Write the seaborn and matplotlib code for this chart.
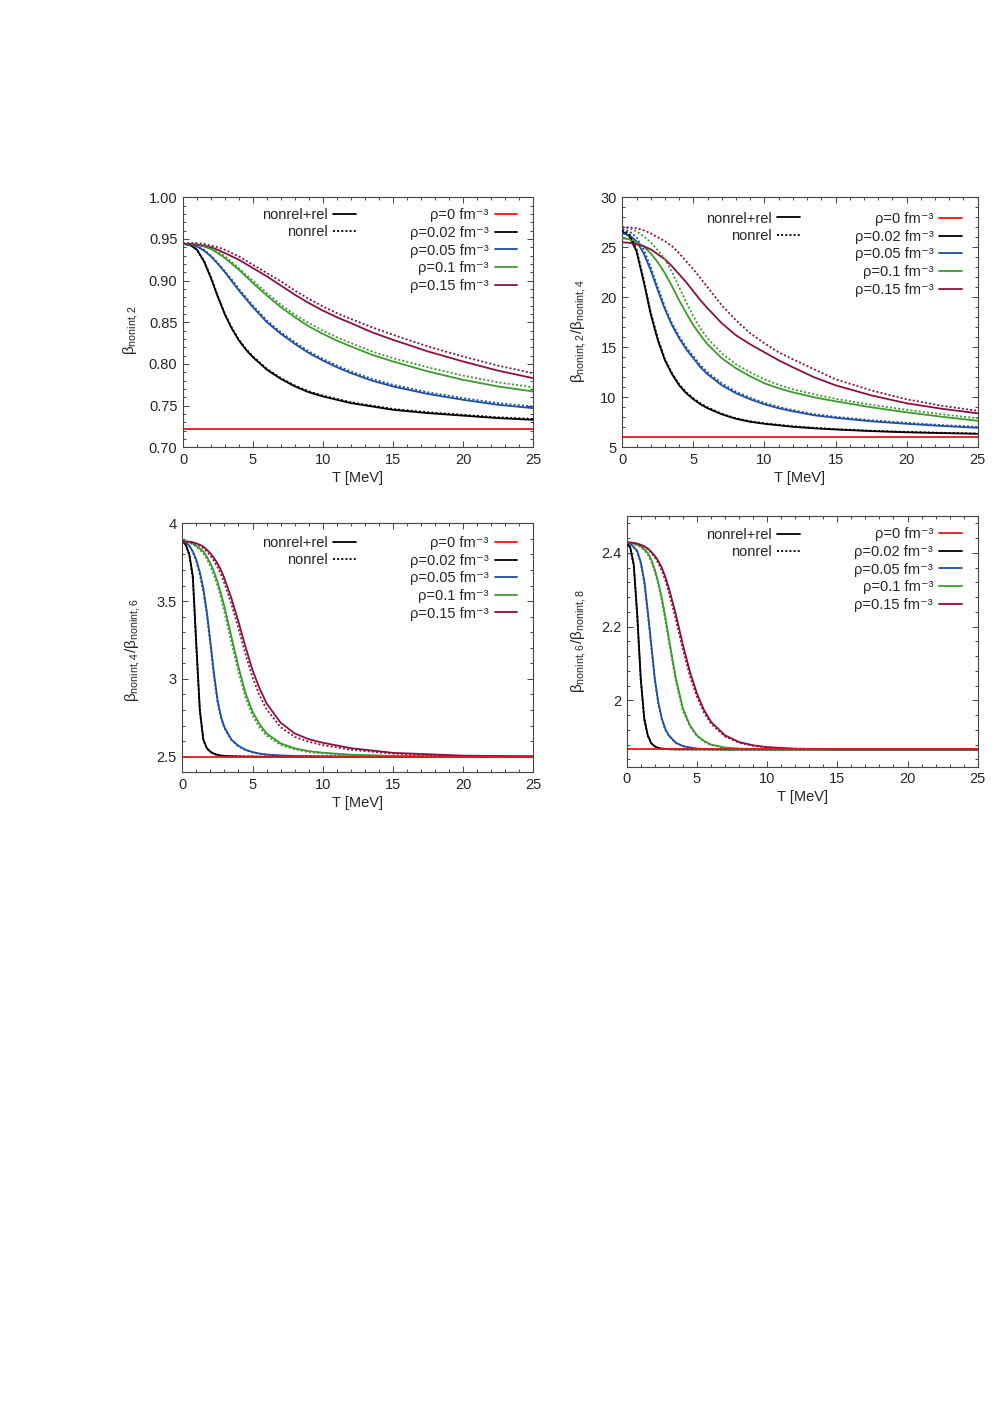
import numpy as np
import pandas as pd
import matplotlib
matplotlib.use("Agg")
import matplotlib.pyplot as plt
import seaborn as sns
from matplotlib.lines import Line2D
from matplotlib.ticker import AutoMinorLocator, FormatStrFormatter

# ---------------- data ----------------
densities = ["ρ=0", "ρ=0.02", "ρ=0.05", "ρ=0.1", "ρ=0.15"]
colors = ["#f01414", "#000000", "#1f4fa0", "#3c9a2e", "#8a1040"]

T_red = [0, 25]

# Panel 1: beta_nonint,2
T1 = [0, 0.5, 1, 1.5, 2, 2.5, 3, 3.5, 4, 4.5, 5, 6, 7, 8, 9, 10, 11, 12, 13.5, 15, 17.5, 20, 22.5, 25]
p1_red = [0.722, 0.722]
p1_black = [0.944, 0.943, 0.937, 0.923, 0.903, 0.880, 0.859, 0.842, 0.828, 0.817, 0.808, 0.793, 0.782, 0.773, 0.766, 0.761, 0.757, 0.753, 0.749, 0.745, 0.741, 0.738, 0.735, 0.733]
p1_black_nr = [0.944, 0.943, 0.937, 0.924, 0.904, 0.881, 0.860, 0.843, 0.829, 0.818, 0.809, 0.794, 0.783, 0.774, 0.767, 0.762, 0.758, 0.754, 0.750, 0.746, 0.742, 0.739, 0.736, 0.734]
p1_blue = [0.944, 0.943, 0.941, 0.936, 0.929, 0.920, 0.910, 0.899, 0.888, 0.878, 0.868, 0.850, 0.836, 0.824, 0.813, 0.804, 0.796, 0.789, 0.780, 0.773, 0.764, 0.757, 0.751, 0.747]
p1_blue_nr = [0.944, 0.943, 0.941, 0.937, 0.930, 0.921, 0.911, 0.901, 0.890, 0.880, 0.870, 0.852, 0.838, 0.826, 0.815, 0.806, 0.798, 0.791, 0.782, 0.775, 0.766, 0.759, 0.753, 0.749]
p1_green = [0.944, 0.944, 0.943, 0.941, 0.938, 0.933, 0.927, 0.920, 0.913, 0.905, 0.897, 0.882, 0.868, 0.856, 0.845, 0.836, 0.828, 0.821, 0.811, 0.803, 0.791, 0.781, 0.773, 0.767]
p1_green_nr = [0.944, 0.944, 0.944, 0.942, 0.939, 0.935, 0.929, 0.922, 0.915, 0.907, 0.900, 0.885, 0.871, 0.859, 0.849, 0.840, 0.832, 0.825, 0.815, 0.807, 0.796, 0.786, 0.778, 0.772]
p1_maroon = [0.944, 0.944, 0.943, 0.942, 0.940, 0.937, 0.933, 0.929, 0.925, 0.920, 0.915, 0.905, 0.894, 0.883, 0.873, 0.864, 0.856, 0.849, 0.838, 0.829, 0.815, 0.803, 0.792, 0.783]
p1_maroon_nr = [0.945, 0.945, 0.945, 0.944, 0.942, 0.940, 0.937, 0.933, 0.929, 0.924, 0.919, 0.909, 0.899, 0.888, 0.878, 0.869, 0.861, 0.854, 0.844, 0.835, 0.821, 0.809, 0.798, 0.789]

# Panel 2: beta_nonint,2 / beta_nonint,4
T2 = [0, 0.5, 1, 1.5, 2, 2.5, 3, 3.5, 4, 4.5, 5, 5.5, 6, 7, 8, 9, 10, 11, 12, 13.5, 15, 17.5, 20, 22.5, 25]
p2_red = [6.0, 6.0]
p2_black = [26.6, 26.1, 24.6, 21.6, 18.3, 15.7, 13.7, 12.3, 11.2, 10.4, 9.8, 9.3, 8.9, 8.3, 7.85, 7.55, 7.35, 7.2, 7.05, 6.9, 6.78, 6.62, 6.5, 6.42, 6.35]
p2_black_nr = [26.8, 26.3, 24.8, 21.8, 18.5, 15.9, 13.8, 12.4, 11.3, 10.5, 9.9, 9.4, 9.0, 8.35, 7.9, 7.6, 7.4, 7.25, 7.1, 6.95, 6.82, 6.66, 6.54, 6.45, 6.38]
p2_blue = [26.4, 26.2, 25.6, 24.4, 22.7, 20.7, 18.8, 17.2, 15.9, 14.8, 13.9, 13.0, 12.3, 11.2, 10.4, 9.8, 9.3, 8.9, 8.6, 8.2, 7.95, 7.6, 7.35, 7.13, 6.95]
p2_blue_nr = [26.8, 26.6, 26.0, 24.8, 23.0, 21.0, 19.0, 17.4, 16.1, 15.0, 14.1, 13.2, 12.5, 11.4, 10.55, 9.95, 9.45, 9.05, 8.72, 8.32, 8.05, 7.7, 7.45, 7.22, 7.05]
p2_green = [25.9, 25.8, 25.5, 25.1, 24.4, 23.5, 22.4, 21.1, 19.7, 18.4, 17.2, 16.2, 15.3, 13.9, 12.9, 12.1, 11.4, 10.9, 10.5, 10.0, 9.6, 9.0, 8.5, 8.05, 7.65]
p2_green_nr = [27.0, 26.9, 26.6, 26.1, 25.5, 24.7, 23.8, 22.5, 21.0, 19.5, 18.1, 16.9, 15.9, 14.4, 13.3, 12.5, 11.8, 11.25, 10.8, 10.3, 9.85, 9.25, 8.75, 8.3, 7.9]
p2_maroon = [25.5, 25.45, 25.3, 25.1, 24.8, 24.3, 23.8, 23.1, 22.3, 21.5, 20.6, 19.7, 18.9, 17.4, 16.2, 15.3, 14.5, 13.7, 13.0, 12.0, 11.2, 10.2, 9.4, 8.85, 8.4]
p2_maroon_nr = [27.0, 27.0, 26.9, 26.7, 26.4, 26.0, 25.6, 25.1, 24.4, 23.6, 22.8, 21.9, 21.0, 19.2, 17.7, 16.4, 15.4, 14.5, 13.8, 12.8, 11.8, 10.7, 9.8, 9.15, 8.65]

# Panels 3 and 4 share a temperature grid
T34 = [0, 0.25, 0.5, 0.75, 1, 1.25, 1.5, 1.75, 2, 2.25, 2.5, 2.75, 3, 3.5, 4, 4.5, 5, 5.5, 6, 7, 8, 9, 10, 12, 15, 20, 25]

# Panel 3: beta_nonint,4 / beta_nonint,6
p3_red = [2.5, 2.5]
p3_black = [3.885, 3.862, 3.80, 3.66, 3.22, 2.80, 2.61, 2.555, 2.532, 2.52, 2.512, 2.508, 2.505, 2.503, 2.502, 2.501, 2.501, 2.5, 2.5, 2.5, 2.5, 2.5, 2.5, 2.5, 2.5, 2.5, 2.5]
p3_black_nr = [3.885, 3.86, 3.795, 3.645, 3.20, 2.79, 2.605, 2.553, 2.531, 2.519, 2.511, 2.507, 2.505, 2.503, 2.502, 2.501, 2.501, 2.5, 2.5, 2.5, 2.5, 2.5, 2.5, 2.5, 2.5, 2.5, 2.5]
p3_blue = [3.885, 3.877, 3.856, 3.82, 3.765, 3.685, 3.58, 3.43, 3.24, 3.04, 2.87, 2.76, 2.69, 2.61, 2.57, 2.545, 2.53, 2.52, 2.514, 2.508, 2.505, 2.503, 2.502, 2.501, 2.5, 2.5, 2.5]
p3_blue_nr = [3.885, 3.876, 3.853, 3.815, 3.755, 3.67, 3.56, 3.41, 3.22, 3.02, 2.855, 2.75, 2.683, 2.606, 2.567, 2.543, 2.528, 2.519, 2.513, 2.507, 2.504, 2.503, 2.502, 2.501, 2.5, 2.5, 2.5]
p3_green = [3.885, 3.883, 3.878, 3.868, 3.854, 3.838, 3.818, 3.785, 3.743, 3.69, 3.625, 3.55, 3.464, 3.271, 3.078, 2.91, 2.79, 2.71, 2.65, 2.586, 2.554, 2.536, 2.526, 2.513, 2.505, 2.501, 2.5]
p3_green_nr = [3.885, 3.882, 3.876, 3.865, 3.85, 3.83, 3.806, 3.77, 3.725, 3.668, 3.60, 3.52, 3.43, 3.235, 3.045, 2.88, 2.765, 2.69, 2.636, 2.576, 2.547, 2.531, 2.522, 2.511, 2.504, 2.501, 2.5]
p3_maroon = [3.885, 3.884, 3.882, 3.878, 3.871, 3.862, 3.85, 3.83, 3.807, 3.778, 3.743, 3.70, 3.646, 3.518, 3.368, 3.207, 3.057, 2.94, 2.843, 2.719, 2.65, 2.613, 2.59, 2.555, 2.525, 2.507, 2.502]
p3_maroon_nr = [3.883, 3.882, 3.879, 3.874, 3.866, 3.855, 3.84, 3.818, 3.792, 3.76, 3.72, 3.672, 3.615, 3.48, 3.325, 3.16, 3.01, 2.895, 2.805, 2.69, 2.628, 2.596, 2.575, 2.545, 2.52, 2.505, 2.501]

# Panel 4: beta_nonint,6 / beta_nonint,8
p4_red = [1.867, 1.867]
p4_black = [2.428, 2.415, 2.369, 2.233, 2.06, 1.951, 1.905, 1.884, 1.875, 1.871, 1.869, 1.868, 1.8675, 1.867, 1.867, 1.867, 1.867, 1.867, 1.867, 1.867, 1.867, 1.867, 1.867, 1.867, 1.867, 1.867, 1.867]
p4_black_nr = [2.428, 2.414, 2.366, 2.228, 2.055, 1.948, 1.904, 1.883, 1.875, 1.871, 1.869, 1.868, 1.8675, 1.867, 1.867, 1.867, 1.867, 1.867, 1.867, 1.867, 1.867, 1.867, 1.867, 1.867, 1.867, 1.867, 1.867]
p4_blue = [2.428, 2.425, 2.416, 2.405, 2.375, 2.325, 2.242, 2.151, 2.06, 1.995, 1.951, 1.922, 1.905, 1.885, 1.876, 1.872, 1.869, 1.868, 1.8675, 1.867, 1.867, 1.867, 1.867, 1.867, 1.867, 1.867, 1.867]
p4_blue_nr = [2.428, 2.425, 2.415, 2.403, 2.372, 2.32, 2.236, 2.145, 2.055, 1.991, 1.948, 1.92, 1.904, 1.884, 1.876, 1.871, 1.869, 1.868, 1.8675, 1.867, 1.867, 1.867, 1.867, 1.867, 1.867, 1.867, 1.867]
p4_green = [2.428, 2.427, 2.425, 2.422, 2.418, 2.41, 2.40, 2.382, 2.355, 2.32, 2.278, 2.226, 2.169, 2.06, 1.978, 1.933, 1.905, 1.89, 1.88, 1.872, 1.869, 1.868, 1.867, 1.867, 1.867, 1.867, 1.867]
p4_green_nr = [2.428, 2.427, 2.425, 2.421, 2.416, 2.407, 2.396, 2.377, 2.349, 2.313, 2.27, 2.218, 2.16, 2.052, 1.972, 1.929, 1.903, 1.888, 1.879, 1.871, 1.869, 1.868, 1.867, 1.867, 1.867, 1.867, 1.867]
p4_maroon = [2.428, 2.428, 2.427, 2.425, 2.422, 2.418, 2.412, 2.403, 2.392, 2.378, 2.36, 2.335, 2.305, 2.233, 2.151, 2.078, 2.019, 1.974, 1.942, 1.905, 1.887, 1.878, 1.873, 1.869, 1.867, 1.867, 1.867]
p4_maroon_nr = [2.428, 2.428, 2.427, 2.424, 2.421, 2.416, 2.41, 2.40, 2.388, 2.372, 2.352, 2.326, 2.294, 2.22, 2.138, 2.066, 2.01, 1.967, 1.937, 1.902, 1.885, 1.877, 1.872, 1.868, 1.867, 1.867, 1.867]

ylabels = [r"$\mathregular{β_{nonint,2}}$",
           r"$\mathregular{β_{nonint,2}/β_{nonint,4}}$",
           r"$\mathregular{β_{nonint,4}/β_{nonint,6}}$",
           r"$\mathregular{β_{nonint,6}/β_{nonint,8}}$"]
xlabel = "T [MeV]"
xticks = [0, 5, 10, 15, 20, 25]
unit = " fm⁻³"

# ---------------- style ----------------
sns.set_style("ticks")
plt.rcParams["font.family"] = ["Liberation Sans", "DejaVu Sans"]
plt.rcParams["mathtext.fontset"] = "custom"
plt.rcParams["mathtext.rm"] = "Liberation Sans"
plt.rcParams["mathtext.it"] = "Liberation Sans:italic"
plt.rcParams["mathtext.bf"] = "Liberation Sans:bold"
plt.rcParams["axes.unicode_minus"] = True
FS = 10.5
plt.rcParams["font.size"] = FS

fig = plt.figure(figsize=(10.03, 14.19), dpi=100)
W, H = 1003.0, 1419.0

def add_ax(x0, x1, y0, y1):
    return fig.add_axes([x0 / W, 1 - y1 / H, (x1 - x0) / W, (y1 - y0) / H])

axes = [add_ax(183, 533, 197.3, 447.3),
        add_ax(622.3, 977.7, 197.3, 447.3),
        add_ax(182.3, 533.3, 523.3, 772.3),
        add_ax(626.7, 977.7, 516.0, 766.7)]

panels = [
    (T1, [p1_red, p1_black, p1_blue, p1_green, p1_maroon],
         [None, p1_black_nr, p1_blue_nr, p1_green_nr, p1_maroon_nr]),
    (T2, [p2_red, p2_black, p2_blue, p2_green, p2_maroon],
         [None, p2_black_nr, p2_blue_nr, p2_green_nr, p2_maroon_nr]),
    (T34, [p3_red, p3_black, p3_blue, p3_green, p3_maroon],
          [None, p3_black_nr, p3_blue_nr, p3_green_nr, p3_maroon_nr]),
    (T34, [p4_red, p4_black, p4_blue, p4_green, p4_maroon],
          [None, p4_black_nr, p4_blue_nr, p4_green_nr, p4_maroon_nr]),
]

ylims = [(0.70, 1.00), (5, 30), (2.4, 4.0), (1.82, 2.5)]
yticks = [[0.70, 0.75, 0.80, 0.85, 0.90, 0.95, 1.00],
          [5, 10, 15, 20, 25, 30],
          [2.5, 3, 3.5, 4],
          [2.0, 2.2, 2.4]]
yfmts = ["%.2f", "%g", "%g", "%g"]
ylabel_xy = [(-0.122, 0.47), (-0.097, 0.465), (-0.115, 0.49), (-0.111, 0.5)]
leg_style_anchor = [(0.494, 0.957), (0.500, 0.943), (0.495, 0.948), (0.494, 0.952)]
leg_rho_anchor = [(0.955, 0.956), (0.955, 0.941), (0.954, 0.949), (0.954, 0.955)]

LW = 1.3
DOT = (0, (1.1, 1.2))

for i, ax in enumerate(axes):
    T, solid, nonrel = panels[i]
    for k in range(5):
        if k == 0:
            df = pd.DataFrame({"T": T_red, "v": solid[k]})
            sns.lineplot(data=df, x="T", y="v", ax=ax, color=colors[k], lw=LW,
                         estimator=None, sort=False, legend=False, zorder=5)
            continue
        df = pd.DataFrame({"T": T, "v": solid[k]})
        sns.lineplot(data=df, x="T", y="v", ax=ax, color=colors[k], lw=LW,
                     estimator=None, sort=False, legend=False, zorder=3)
        dfn = pd.DataFrame({"T": T, "v": nonrel[k]})
        sns.lineplot(data=dfn, x="T", y="v", ax=ax, color=colors[k], lw=LW,
                     linestyle=DOT, estimator=None, sort=False, legend=False, zorder=4)

    ax.set_xlim(0, 25)
    ax.set_ylim(*ylims[i])
    ax.set_xticks(xticks)
    ax.set_yticks(yticks[i])
    ax.xaxis.set_major_formatter(FormatStrFormatter("%g"))
    ax.yaxis.set_major_formatter(FormatStrFormatter(yfmts[i]))
    ax.xaxis.set_minor_locator(AutoMinorLocator(5))
    ax.yaxis.set_minor_locator(AutoMinorLocator(5))
    ax.tick_params(which="both", direction="in", top=True, right=True,
                   color="#444444", width=0.7, labelsize=FS, pad=4)
    ax.tick_params(which="major", length=4.5)
    ax.tick_params(which="minor", length=2.3)
    for sp in ax.spines.values():
        sp.set_color("#444444")
        sp.set_linewidth(0.8)
    ax.set_xlabel(xlabel, fontsize=FS, labelpad=3)
    ax.set_ylabel(ylabels[i], fontsize=11)
    ax.yaxis.set_label_coords(*ylabel_xy[i])
    ax.set_facecolor("white")

    # legends (gnuplot-style: text then sample)
    h_style = [Line2D([], [], color="black", lw=LW),
               Line2D([], [], color="black", lw=LW, linestyle=DOT)]
    leg1 = ax.legend(h_style, ["nonrel+rel", "nonrel"], loc="upper right",
                     bbox_to_anchor=leg_style_anchor[i], frameon=False, markerfirst=False,
                     borderpad=0, borderaxespad=0, handlelength=1.55, handletextpad=0.4,
                     labelspacing=0.22, fontsize=FS)
    ax.add_artist(leg1)
    h_rho = [Line2D([], [], color=c, lw=LW) for c in colors]
    lab_rho = [d + unit for d in densities]
    ax.legend(h_rho, lab_rho, loc="upper right", bbox_to_anchor=leg_rho_anchor[i],
              frameon=False, markerfirst=False, borderpad=0, borderaxespad=0,
              handlelength=1.55, handletextpad=0.4, labelspacing=0.25, fontsize=FS)

fig.savefig("out.png", dpi=100, facecolor="white")
